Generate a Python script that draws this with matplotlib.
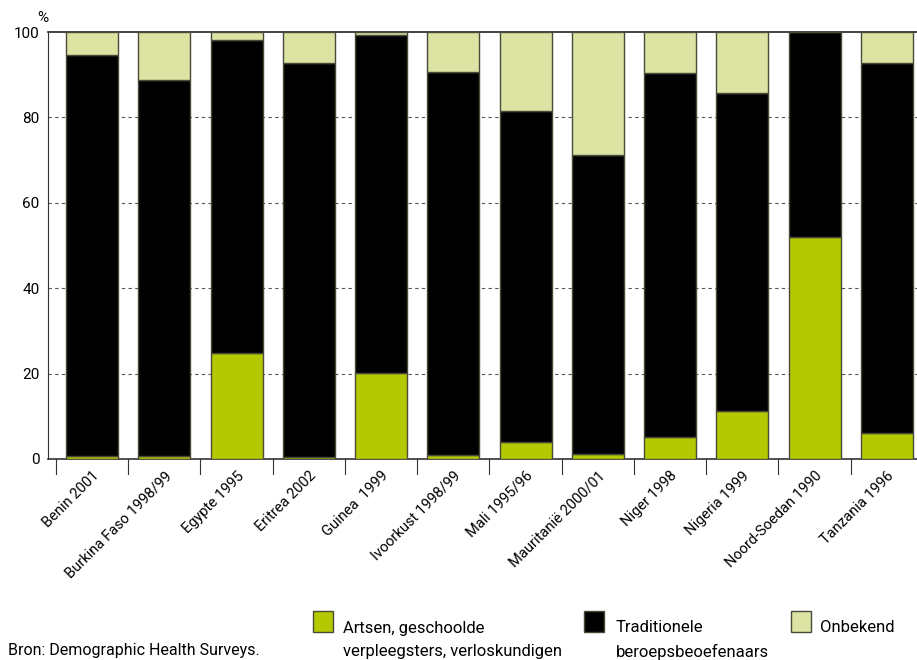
import matplotlib
matplotlib.use("Agg")
import matplotlib.pyplot as plt
from matplotlib.patches import Rectangle
import numpy as np

plt.rcParams['font.family'] = ['Roboto', 'DejaVu Sans']

categories = ["Benin 2001", "Burkina Faso 1998/99", "Egypte 1995", "Eritrea 2002",
              "Guinea  1999", "Ivoorkust 1998/99", "Mali 1995/96", "Mauritanië 2000/01",
              "Niger 1998", "Nigeria 1999", "Noord-Soedan 1990", "Tanzania 1996"]
artsen = [0.8, 0.8, 24.8, 0.5, 20.1, 1.0, 4.0, 1.2, 5.2, 11.2, 52.0, 6.1]
traditioneel = [93.8, 88.0, 73.3, 92.2, 79.2, 89.6, 77.5, 70.0, 85.2, 74.5, 48.0, 86.6]
onbekend = [100 - a - t for a, t in zip(artsen, traditioneel)]
yticks = [0, 20, 40, 60, 80, 100]

c_green = "#b5c900"
c_black = "#000000"
c_light = "#dce3a3"
edge = "#4a4a3a"

W, H = 917, 660
fig = plt.figure(figsize=(9.17, 6.6), dpi=100)
ax = fig.add_axes([48 / W, 1 - 459 / H, 875 / W, 427 / H])

x = np.arange(len(categories))
w = 0.72
ax.bar(x, artsen, w, color=c_green, edgecolor=edge, linewidth=1.0, zorder=3)
ax.bar(x, traditioneel, w, bottom=artsen, color=c_black, edgecolor=edge, linewidth=1.0, zorder=3)
bottom2 = [a + t for a, t in zip(artsen, traditioneel)]
ax.bar(x, onbekend, w, bottom=bottom2, color=c_light, edgecolor=edge, linewidth=1.0, zorder=3)

ax.set_xlim(-0.61, len(categories) - 0.5)
ax.set_ylim(0, 100)
ax.set_yticks(yticks)
ax.set_yticklabels([str(v) for v in yticks], fontsize=11)
ax.tick_params(axis='y', length=0, pad=6)
for v in yticks[1:-1]:
    ax.axhline(v, color="#555555", linestyle=(0, (3, 3)), linewidth=0.8, zorder=1)
ax.axhline(100, color="#222222", linewidth=1.2, zorder=2, clip_on=False)

ax.set_xticks(x)
ax.set_xticklabels(categories, rotation=45, ha='right', rotation_mode='anchor', fontsize=10.5)
ax.tick_params(axis='x', length=0, pad=7)
for b in np.arange(-0.5, len(categories), 1.0):
    ax.plot([b, b], [0, -0.035], transform=ax.get_xaxis_transform(), color="#333333",
            linewidth=0.8, clip_on=False)

for s in ["top", "right"]:
    ax.spines[s].set_visible(False)
ax.spines["left"].set_color("#333333")
ax.spines["bottom"].set_color("#333333")
ax.spines["bottom"].set_linewidth(1.2)

fig.text(37 / W, 1 - 25 / H, "%", fontsize=11, ha='left', va='bottom')

# legend
def legend_box(px, py, color):
    fig.patches.append(Rectangle((px / W, 1 - (py + 21) / H), 20 / W, 21 / H,
                                 facecolor=color, edgecolor=edge, linewidth=1.0,
                                 transform=fig.transFigure, figure=fig))
legend_box(313, 611, c_green)
legend_box(584, 611, c_black)
legend_box(791, 611, c_light)
fig.text(343 / W, 1 - 640 / H, "Artsen, geschoolde\nverpleegsters, verloskundigen",
         fontsize=12, va='center', ha='left', linespacing=1.65)
fig.text(616 / W, 1 - 640 / H, "Traditionele\nberoepsbeoefenaars",
         fontsize=12, va='center', ha='left', linespacing=1.65)
fig.text(820 / W, 1 - 628 / H, "Onbekend", fontsize=12, va='center', ha='left')
fig.text(8 / W, 1 - 651 / H, "Bron: Demographic Health Surveys.", fontsize=11.5, va='center', ha='left')

fig.savefig("out.png", dpi=100)
